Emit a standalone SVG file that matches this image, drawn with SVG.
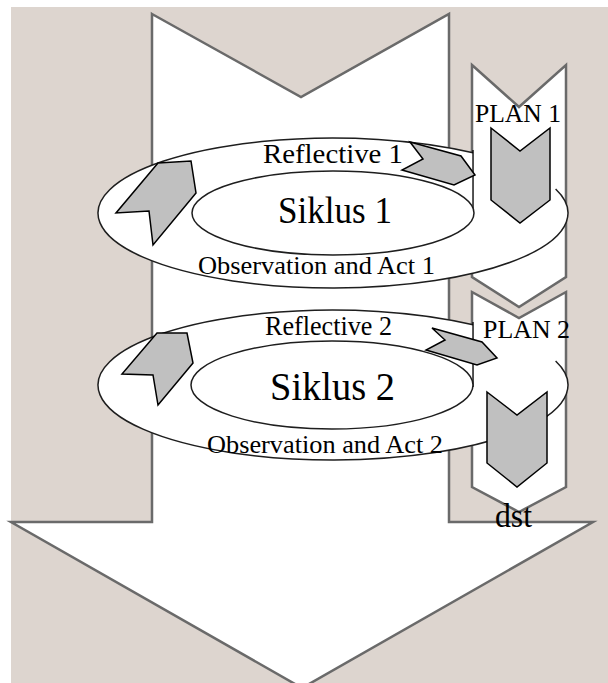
<svg xmlns="http://www.w3.org/2000/svg" width="608" height="683" viewBox="0 0 608 683">
<style>
.frame{fill:#ffffff;stroke:#6a6a6a;stroke-width:2.5;stroke-linejoin:miter}
.band{fill:#ffffff;stroke:none}
.edge{fill:none;stroke:#1e1e1e;stroke-width:1.5}
.hole{fill:#ffffff;stroke:#1e1e1e;stroke-width:1.5}
.cut{stroke:#000;stroke-width:1.3}
.gray{fill:#c0c0c0;stroke:#000;stroke-width:1.5;stroke-linejoin:miter}
text{font-family:"Liberation Serif","Times New Roman",serif;fill:#000}
</style>
<rect x="11" y="7" width="597" height="676" fill="#ddd5cf"/>
<g id="main-arrow">
<path class="frame" d="M152,14 L301,97 L449,14 L449,522 L593,522 L302,688 L11,522 L152,522 Z"/>
</g>
<g id="plan-column-1">
<path class="frame" d="M472,65 L519,107 L566,65 L566,277 L519,307 L472,277 Z"/>
</g>
<g id="plan-column-2">
<path class="frame" d="M472,292 L519,318 L566,292 L566,487 L519,512 L472,487 Z"/>
</g>
<g id="siklus-1">
<path class="band" d="M473,152.8 A235,75 0 1 0 555.6,189 L473,215 Z"/>
<path class="edge" d="M473,152.8 A235,75 0 1 0 555.6,189"/>
<line class="cut" x1="473" y1="150" x2="473" y2="215"/>
<ellipse class="hole" cx="333" cy="213" rx="141" ry="42"/>
<text x="278" y="223" font-size="38" textLength="114" lengthAdjust="spacingAndGlyphs">Siklus 1</text>
<text x="263" y="163" font-size="28" textLength="140" lengthAdjust="spacingAndGlyphs">Reflective 1</text>
<text x="198" y="274" font-size="26" textLength="237" lengthAdjust="spacingAndGlyphs">Observation and Act 1</text>
</g>
<g id="siklus-2">
<path class="band" d="M473,324.8 A235,75 0 1 0 555.6,361 L473,387 Z"/>
<path class="edge" d="M473,324.8 A235,75 0 1 0 555.6,361"/>
<line class="cut" x1="473" y1="322" x2="473" y2="387"/>
<ellipse class="hole" cx="332" cy="385" rx="141" ry="44"/>
<text x="270" y="400" font-size="41" textLength="125" lengthAdjust="spacingAndGlyphs">Siklus 2</text>
<text x="265" y="335" font-size="27" textLength="127" lengthAdjust="spacingAndGlyphs">Reflective 2</text>
<text x="207" y="453" font-size="26" textLength="236" lengthAdjust="spacingAndGlyphs">Observation and Act 2</text>
</g>
<g id="plan-1">
<text x="475" y="122" font-size="25" textLength="86" lengthAdjust="spacingAndGlyphs">PLAN 1</text>
</g>
<g id="plan-2">
<text x="483" y="338" font-size="25" textLength="87" lengthAdjust="spacingAndGlyphs">PLAN 2</text>
</g>
<g id="dst">
<text x="495" y="527" font-size="33" textLength="37" lengthAdjust="spacingAndGlyphs">dst</text>
</g>
<g id="connectors">
<polygon class="gray" points="158,163 191,161 196,193 153,245 149,211 116,213"/>
<polygon class="gray" points="410,142 461,156 475,175 454,185 402,170 423,159"/>
<polygon class="gray" points="491,128 520,151 550,128 550,200 520,223 491,200"/>
<polygon class="gray" points="157,333 187,333 193,363 158,405 153,375 122,374"/>
<polygon class="gray" points="432,328 482,342 497,358 477,365 426,350 445,340"/>
<polygon class="gray" points="487,392 517,415 547,392 547,463 517,487 487,463"/>
</g>
</svg>
